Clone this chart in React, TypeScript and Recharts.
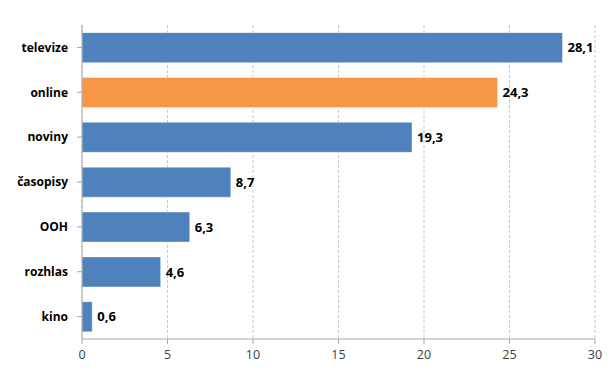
import React from "react";
import { Bar, BarChart, CartesianGrid, Cell, LabelList, XAxis, YAxis } from "recharts";

// media categories and their share values
const categories = ["televize", "online", "noviny", "časopisy", "OOH", "rozhlas", "kino"];
const values = [28.1, 24.3, 19.3, 8.7, 6.3, 4.6, 0.6];
const xTicks = [0, 5, 10, 15, 20, 25, 30];
const highlighted = "online";

const data = categories.map((name, i) => ({ name, value: values[i] }));

const BLUE = "#4F81BD";
const ORANGE = "#F79646";
const FONT = "'Open Sans', 'Noto Sans', sans-serif";

const formatValue = (v: any) => String(v).replace(".", ",");

export default function App() {
  return (
    <div style={{ position: "absolute", left: 0, top: 0, width: 610, height: 372, background: "#fff" }}>
      <BarChart
        width={610}
        height={372}
        data={data}
        layout="vertical"
        margin={{ top: 25, right: 15, left: 0, bottom: 3 }}
        barCategoryGap="17%"
      >
        <CartesianGrid horizontal={false} stroke="#c8c8c8" strokeDasharray="3 2" />
        <XAxis
          type="number"
          domain={[0, 30]}
          ticks={xTicks}
          height={30}
          stroke="#a6a6a6"
          tickSize={5}
          tickMargin={6}
          tick={{ fill: "#404040", fontSize: 12.5, fontFamily: FONT }}
        />
        <YAxis
          type="category"
          dataKey="name"
          width={82}
          stroke="#a6a6a6"
          tickSize={5}
          tickMargin={9}
          tick={{ fill: "#000", fontSize: 12, fontWeight: 700, fontFamily: FONT }}
        />
        <Bar dataKey="value" isAnimationActive={false} stroke="#ffffff" strokeOpacity={0.4}>
          {data.map((d) => (
            <Cell key={d.name} fill={d.name === highlighted ? ORANGE : BLUE} />
          ))}
          <LabelList
            dataKey="value"
            position="right"
            offset={5}
            formatter={formatValue}
            style={{ fill: "#000", fontSize: 13, fontWeight: 700, fontFamily: FONT }}
          />
        </Bar>
      </BarChart>
    </div>
  );
}
